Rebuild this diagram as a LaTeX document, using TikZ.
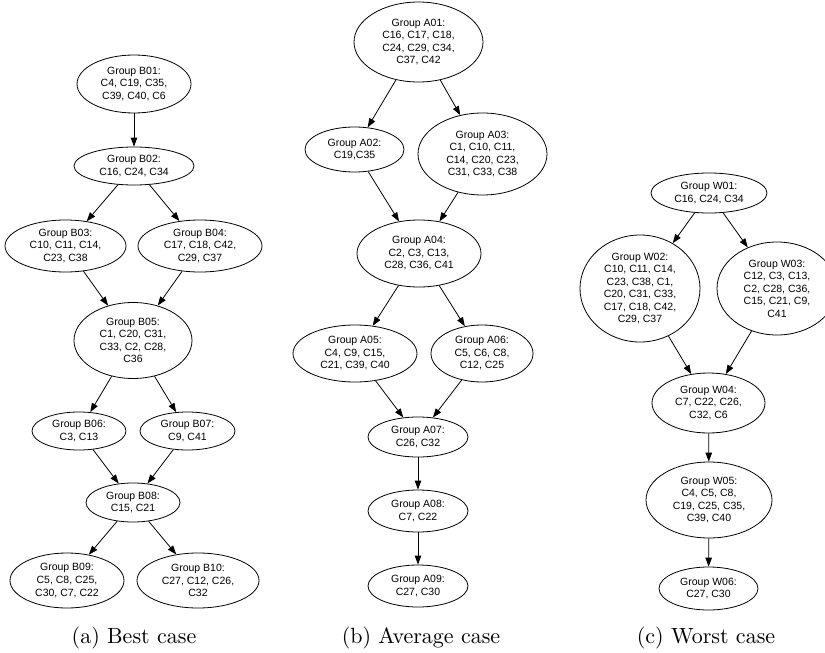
\documentclass[tikz,border=0pt]{standalone}
\usepackage{fontspec}
\usepackage{graphicx}
\newfontfamily\nodefont{Liberation Sans}
\usetikzlibrary{shapes.geometric,arrows.meta}
\tikzset{
  grp/.style={ellipse, draw, line width=0.8pt, inner sep=0pt, align=center,
    font=\nodefont\fontsize{10.5}{12.5}\selectfont},
  conn/.style={draw, line width=0.8pt, -{Triangle[length=9pt,width=6.5pt]}},
  capnode/.style={anchor=base, inner sep=0pt}
}
\newcommand{\captxt}[1]{\scalebox{2.2}{\fontsize{10}{12}\selectfont #1}}
\begin{document}
\begin{tikzpicture}[x=1pt,y=-1pt]
\useasboundingbox (0,0) rectangle (825,653);
% ---------- (a) Best case ----------
\node[grp, minimum width=114pt, minimum height=58pt] (b1) at (134,84) {Group B01:\\C4, C19, C35,\\C39, C40, C6};
\node[grp, minimum width=120pt, minimum height=38pt] (b2) at (134,166) {Group B02:\\C16, C24, C34};
\node[grp, minimum width=121pt, minimum height=52pt] (b3) at (65.5,246) {Group B03:\\C10, C11, C14,\\C23, C38};
\node[grp, minimum width=124pt, minimum height=52pt] (b4) at (200,246) {Group B04:\\C17, C18, C42,\\C29, C37};
\node[grp, minimum width=118pt, minimum height=76pt] (b5) at (133,340.5) {Group B05:\\C1, C20, C31,\\C33, C2, C28,\\C36};
\node[grp, minimum width=94pt, minimum height=38pt] (b6) at (79,431) {Group B06:\\C3, C13};
\node[grp, minimum width=95pt, minimum height=38pt] (b7) at (187.5,431) {Group B07:\\C9, C41};
\node[grp, minimum width=94pt, minimum height=39pt] (b8) at (133,502.5) {Group B08:\\C15, C21};
\node[grp, minimum width=114pt, minimum height=55pt] (b9) at (67,580.5) {Group B09:\\C5, C8, C25,\\C30, C7, C22};
\node[grp, minimum width=122pt, minimum height=55pt] (b10) at (198,580.5) {Group B10:\\C27, C12, C26,\\C32};
\draw[conn] (b1) -- (b2);
\draw[conn] (b2) -- (b3);
\draw[conn] (b2) -- (b4);
\draw[conn] (b3) -- (b5);
\draw[conn] (b4) -- (b5);
\draw[conn] (b5) -- (b6);
\draw[conn] (b5) -- (b7);
\draw[conn] (b6) -- (b8);
\draw[conn] (b7) -- (b8);
\draw[conn] (b8) -- (b9);
\draw[conn] (b8) -- (b10);
\node[capnode] (capa) at (134,643) {\captxt{(a) Best case}};
% ---------- (b) Average case ----------
\node[grp, minimum width=129pt, minimum height=80pt] (a1) at (418.5,42) {Group A01:\\C16, C17, C18,\\C24, C29, C34,\\C37, C42};
\node[grp, minimum width=99pt, minimum height=45pt] (a2) at (354.5,149.5) {Group A02:\\C19,C35};
\node[grp, minimum width=129pt, minimum height=82pt] (a3) at (482.5,154) {Group A03:\\C1, C10, C11,\\C14, C20, C23,\\C31, C33, C38};
\node[grp, minimum width=124pt, minimum height=67pt] (a4) at (419,253.5) {Group A04:\\C2, C3, C13,\\C28, C36, C41};
\node[grp, minimum width=124pt, minimum height=57pt] (a5) at (355,353.5) {Group A05:\\C4, C9, C15,\\C21, C39, C40};
\node[grp, minimum width=102pt, minimum height=57pt] (a6) at (482,353.5) {Group A06:\\C5, C6, C8,\\C12, C25};
\node[grp, minimum width=100pt, minimum height=40pt] (a7) at (418,437) {Group A07:\\C26, C32};
\node[grp, minimum width=100pt, minimum height=42pt] (a8) at (418,511) {Group A08:\\C7, C22};
\node[grp, minimum width=100pt, minimum height=42pt] (a9) at (418,586) {Group A09:\\C27, C30};
\draw[conn] (a1) -- (a2);
\draw[conn] (a1) -- (a3);
\draw[conn] (a2) -- (a4);
\draw[conn] (a3) -- (a4);
\draw[conn] (a4) -- (a5);
\draw[conn] (a4) -- (a6);
\draw[conn] (a5) -- (a7);
\draw[conn] (a6) -- (a7);
\draw[conn] (a7) -- (a8);
\draw[conn] (a8) -- (a9);
\node[capnode] (capb) at (421,643) {\captxt{(b) Average case}};
% ---------- (c) Worst case ----------
\node[grp, minimum width=116pt, minimum height=40pt] (w1) at (709,193) {Group W01:\\C16, C24, C34};
\node[grp, minimum width=120pt, minimum height=107pt] (w2) at (640,288.5) {Group W02:\\C10, C11, C14,\\C23, C38, C1,\\C20, C31, C33,\\C17, C18, C42,\\C29, C37};
\node[grp, minimum width=120pt, minimum height=93pt] (w3) at (777,288.5) {Group W03:\\C12, C3, C13,\\C2, C28, C36,\\C15, C21, C9,\\C41};
\node[grp, minimum width=113pt, minimum height=60pt] (w4) at (708.5,403) {Group W04:\\C7, C22, C26,\\C32, C6};
\node[grp, minimum width=126pt, minimum height=76pt] (w5) at (709,500) {Group W05:\\C4, C5, C8,\\C19, C25, C35,\\C39, C40};
\node[grp, minimum width=99pt, minimum height=43pt] (w6) at (708.5,588.5) {Group W06:\\C27, C30};
\draw[conn] (w1) -- (w2);
\draw[conn] (w1) -- (w3);
\draw[conn] (w2) -- (w4);
\draw[conn] (w3) -- (w4);
\draw[conn] (w4) -- (w5);
\draw[conn] (w5) -- (w6);
\node[capnode] (capc) at (706,643) {\captxt{(c) Worst case}};
\end{tikzpicture}
\end{document}
